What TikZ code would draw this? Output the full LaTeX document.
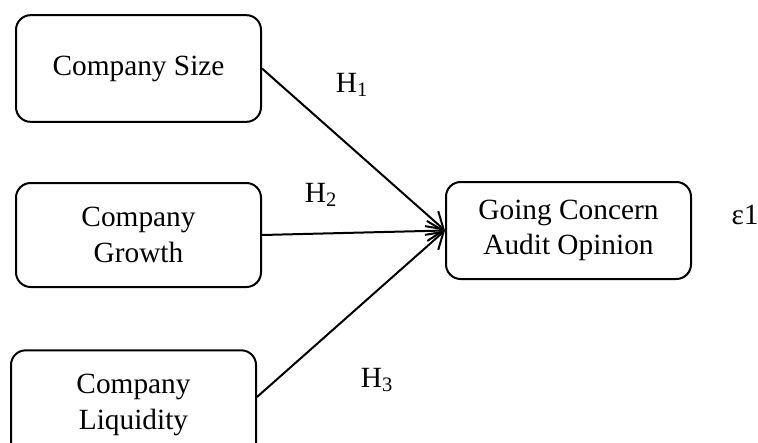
\documentclass[tikz,border=0pt]{standalone}
\usepackage{fontspec}
\setmainfont{Liberation Serif}
\usetikzlibrary{positioning}
\usetikzlibrary{arrows.meta}

\begin{document}
\begin{tikzpicture}
			[
				x = 0.75pt, y = -0.75pt,
				font = \fontsize{22}{26.5}\selectfont,
				myblock/.style = {draw, rectangle, line width = 1.5pt, rounded corners = 11pt, minimum width = 183.75pt, align = center, inner sep = 0pt},
				mylabel/.style = {inner sep = 0pt},
				myarrow/.style = {line width = 1.5pt, -{Straight Barb[length = 12pt, width = 15pt, line width = 1.5pt]}}
			]
			\useasboundingbox (0,0) rectangle (758,443);
			%
			\node (size) [myblock, minimum height = 80pt] at (138.5,68.5) {Company Size};
			\node (growth) [myblock, minimum height = 78pt] at (138.5,235) {Company\\Growth};
			\node (liquidity) [myblock, minimum height = 82pt] at (133.5,405) {Company\\Liquidity};
			%
			\node (opinion) [myblock, minimum height = 72.75pt] at (568.5,230.5) {Going Concern\\Audit Opinion};
			\node (error) [mylabel] at (745,215) {ε1};
			%
			\draw [myarrow] (size.east) -- (opinion.west);
			\draw [myarrow] (growth.east) -- (opinion.west);
			\draw [myarrow] ([yshift = 6pt] liquidity.east) -- (opinion.west);
			%
			\node (h1) [mylabel] at (352,85) {H\textsubscript{1}};
			\node (h2) [mylabel] at (321,195) {H\textsubscript{2}};
			\node (h3) [mylabel] at (377,380) {H\textsubscript{3}};
			%
		\end{tikzpicture}
\end{document}
